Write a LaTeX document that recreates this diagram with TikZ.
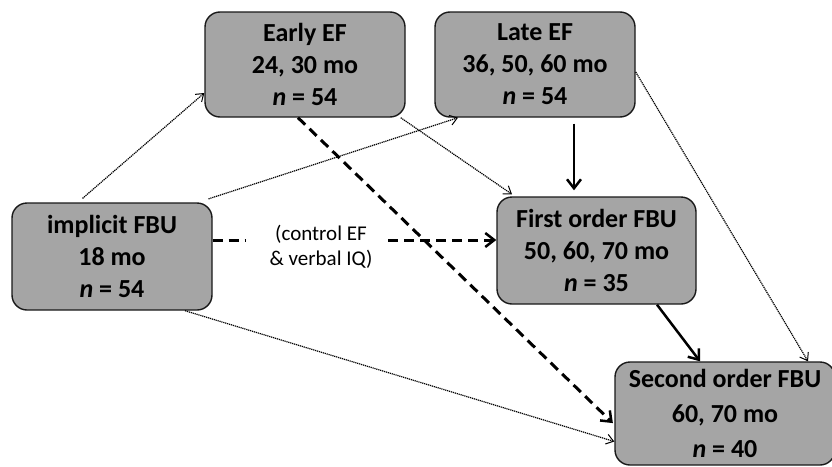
\documentclass[tikz,border=0pt]{standalone}
\usepackage{fontspec}
\setmainfont{Carlito}
\usetikzlibrary{arrows.meta}
\definecolor{boxgray}{HTML}{A5A5A5}
\tikzset{
  box/.style={draw=black!90, line width=1.4pt, fill=boxgray, rounded corners=15pt,
    align=center, font=\fontsize{26}{32}\selectfont\bfseries, inner sep=0pt},
  dotarrow/.style={line width=1.2pt, dash pattern=on 1.2pt off 0.8pt, -{Straight Barb[length=7pt,width=10pt,line width=1pt]}},
  dasharrow/.style={line width=3pt, dash pattern=on 10pt off 6pt, -{Straight Barb[length=9pt,width=14pt,line width=2.5pt]}},
  dashline/.style={line width=3pt, dash pattern=on 10pt off 6pt},
  solidarrow/.style={line width=2.5pt, -{Straight Barb[length=9pt,width=14pt,line width=2.5pt]}},
  lbl/.style={align=center, font=\fontsize{21}{25}\selectfont, inner sep=0pt}
}
\begin{document}
\begin{tikzpicture}[x=1pt,y=-1pt]
\useasboundingbox (0,0) rectangle (832,466);
\node[box, minimum width=200pt, minimum height=105pt] (early) at (305,64.5) {Early EF\\24, 30 mo\\\textit{n} = 54};
\node[box, minimum width=200pt, minimum height=105pt] (late) at (535,64.5) {Late EF\\36, 50, 60 mo\\\textit{n} = 54};
\node[box, minimum width=200pt, minimum height=107pt] (impl) at (112,256.5) {implicit FBU\\18 mo\\\textit{n} = 54};
\node[box, minimum width=199pt, minimum height=107pt] (first) at (596.5,250.5) {First order FBU\\50, 60, 70 mo\\\textit{n} = 35};
\node[box, minimum width=220pt, minimum height=103pt, font=\fontsize{26}{35}\selectfont\bfseries] (second) at (725,413.5) {Second order FBU\\60, 70 mo\\\textit{n} = 40};
\node[lbl] (ctrl) at (321,247) {(control EF\\\& verbal IQ)};
\coordinate (g1) at (245,240);
\coordinate (g2) at (388,240);
% dotted
\draw[dotarrow, shorten <=6pt] ([xshift=-34pt]impl.north) -- ([yshift=-28.5pt]early.west);
\draw[dotarrow, shorten <=11pt] ([xshift=86pt]impl.north) -- ([xshift=-77pt]late.south);
\draw[dotarrow] ([xshift=-5pt]early.south east) -- ([xshift=-84.5pt,yshift=2pt]first.north);
\draw[dotarrow] ([yshift=-7.5pt]late.east) -- ([xshift=83pt]second.north);
\draw[dotarrow] ([xshift=73pt]impl.south) -- ([yshift=-28pt]second.west);
% solid
\draw[solidarrow, shorten <=6pt, shorten >=6pt] ([xshift=39pt]late.south) -- ([xshift=39pt]late.south |- first.north);
\draw[solidarrow] ([xshift=60.5pt]first.south) -- ([xshift=-25pt]second.north);
% dashed
\draw[dashline] ([yshift=16.5pt]impl.east) -- (g1);
\draw[dasharrow] (g2) -- (g2 -| first.west);
\draw[dasharrow, shorten >=2pt] ([xshift=-7pt]early.south) -- ([yshift=-11pt]second.west);
\end{tikzpicture}
\end{document}
